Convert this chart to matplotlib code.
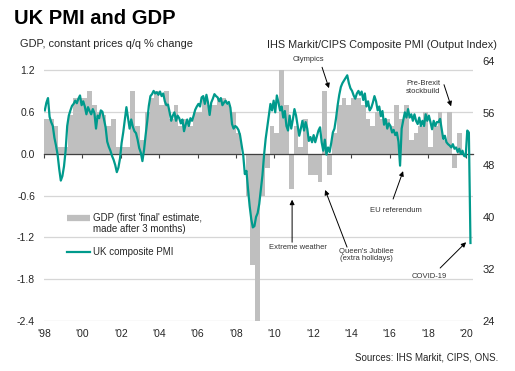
import numpy as np
import matplotlib
matplotlib.use('Agg')
import matplotlib.pyplot as plt
from matplotlib.lines import Line2D

plt.rcParams['font.family'] = ['Liberation Sans', 'DejaVu Sans']

# GDP q/q % change, first 'final' estimate, 1998 Q1 .. 2019 Q4
gdp_q = [
    0.5, 0.5, 0.4, 0.1,      # 1998
    0.1, 0.55, 0.8, 0.8,     # 1999
    0.8, 0.9, 0.7, 0.6,      # 2000
    0.55, 0.4, 0.5, 0.1,     # 2001
    0.1, 0.1, 0.9, 0.4,      # 2002
    0.2, 0.6, 0.8, 0.9,      # 2003
    0.7, 0.9, 0.5, 0.7,      # 2004
    0.4, 0.5, 0.4, 0.6,      # 2005
    0.6, 0.8, 0.7, 0.7,      # 2006
    0.8, 0.8, 0.7, 0.6,      # 2007
    0.3, 0.0, -0.6, -1.6,    # 2008
    -2.4, -0.6, -0.2, 0.4,   # 2009
    0.3, 1.2, 0.7, -0.5,     # 2010
    0.4, 0.1, 0.5, -0.3,     # 2011
    -0.3, -0.4, 0.9, -0.3,   # 2012
    0.3, 0.7, 0.8, 0.7,      # 2013
    0.8, 0.8, 0.7, 0.5,      # 2014
    0.4, 0.6, 0.5, 0.5,      # 2015
    0.4, 0.7, 0.5, 0.7,      # 2016
    0.2, 0.3, 0.4, 0.6,      # 2017
    0.1, 0.4, 0.6, 0.2,      # 2018
    0.6, -0.2, 0.3, 0.0,     # 2019
]

# UK composite PMI, monthly, Jan 1998 .. Mar 2020
pmi_m = [
    56.4, 57.6, 58.3, 55.4, 54.6, 54.0, 52.2, 51.0, 49.6, 47.4, 45.6, 46.3,  # 1998
    47.8, 50.2, 54.0, 55.6, 56.4, 57.1, 57.4, 57.9, 57.5, 58.2, 58.7, 57.2,  # 1999
    57.8, 57.0, 55.8, 56.9, 56.3, 55.8, 56.6, 56.0, 53.6, 55.6, 55.2, 56.4,  # 2000
    56.2, 55.0, 53.8, 51.6, 50.8, 50.2, 49.4, 48.8, 48.0, 46.9, 47.6, 49.0,  # 2001
    51.4, 53.0, 55.0, 56.9, 55.2, 53.6, 55.0, 53.9, 53.2, 52.9, 51.9, 50.6,  # 2002
    49.9, 48.6, 50.3, 52.6, 54.7, 57.1, 58.6, 58.9, 59.4, 59.0, 59.2, 58.8,  # 2003
    59.3, 58.6, 59.0, 57.8, 57.2, 57.3, 56.1, 54.8, 55.6, 56.1, 54.8, 55.6,  # 2004
    55.2, 54.4, 55.0, 53.2, 54.2, 55.0, 54.0, 55.2, 54.8, 55.6, 56.5, 57.0,  # 2005
    57.4, 57.0, 58.4, 58.6, 57.4, 58.8, 57.6, 55.7, 57.6, 58.2, 58.9, 58.6,  # 2006
    58.4, 57.8, 58.3, 57.2, 57.6, 57.9, 57.4, 57.7, 56.8, 54.3, 53.6, 54.0,  # 2007
    53.8, 53.4, 52.6, 51.0, 49.5, 46.6, 47.1, 44.3, 41.7, 39.7, 38.4, 38.6,  # 2008
    40.0, 40.6, 42.0, 44.2, 46.4, 49.5, 52.0, 53.8, 55.5, 57.4, 56.4, 57.9,  # 2009
    56.1, 58.7, 57.6, 56.4, 57.0, 55.3, 56.3, 54.0, 53.3, 55.6, 53.6, 55.0,  # 2010
    56.6, 55.6, 54.0, 52.5, 53.6, 54.8, 53.3, 54.6, 53.6, 51.7, 52.3, 51.5,  # 2011
    52.6, 51.5, 52.4, 53.3, 53.8, 51.5, 50.2, 51.9, 49.6, 50.7, 50.0, 51.4,  # 2012
    53.0, 53.6, 55.2, 57.2, 58.8, 60.0, 60.6, 61.0, 61.4, 61.8, 60.6, 59.8,  # 2013
    59.4, 58.7, 58.2, 59.0, 59.4, 58.8, 59.3, 58.0, 59.0, 57.0, 57.8, 56.4,  # 2014
    56.8, 57.6, 58.6, 57.8, 56.4, 57.0, 55.5, 56.3, 54.2, 55.1, 53.6, 54.4,  # 2015
    54.0, 53.0, 53.4, 52.6, 53.0, 51.6, 47.9, 53.6, 54.9, 56.1, 55.3, 56.6,  # 2016
    55.3, 55.8, 54.8, 55.8, 54.8, 54.3, 55.3, 54.0, 54.8, 54.0, 55.8, 54.8,  # 2017
    55.6, 54.6, 53.5, 54.8, 54.0, 54.6, 54.6, 55.1, 53.5, 52.0, 52.5, 51.5,  # 2018
    51.2, 51.0, 50.7, 51.2, 50.5, 50.7, 50.0, 50.5, 49.7, 50.2, 49.4, 49.3,  # 2019
    53.3, 53.0, 36.0,                                                        # 2020
]

start_year = 1998
year_ticks = list(range(1998, 2021, 2))
year_labels = ["'" + str(y)[2:] for y in year_ticks]
gdp_ticks = [-2.4, -1.8, -1.2, -0.6, 0.0, 0.6, 1.2]
pmi_ticks = [24, 32, 40, 48, 56, 64]

legend_labels = ["GDP (first 'final' estimate,\nmade after 3 months)", "UK composite PMI"]

BAR_COL = '#bfbfbf'
LINE_COL = '#009a8c'
TXT_COL = '#262626'
W, H = 515, 371


def fx(px):
    return px / W


def fy(py):
    return 1 - py / H


gdp_x = start_year + np.arange(len(gdp_q)) * 0.25
pmi_x = start_year + (np.arange(len(pmi_m)) + 0.5) / 12

fig = plt.figure(figsize=(W / 100, H / 100), dpi=100)
ax = fig.add_axes([fx(44), fy(321), fx(473) - fx(44), fy(61) - fy(321)])
ax2 = ax.twinx()

ax.bar(gdp_x, gdp_q, width=0.25, align='edge', color=BAR_COL, linewidth=0, zorder=2)
ax2.plot(pmi_x, pmi_m, color=LINE_COL, lw=1.6, zorder=3)

ax.set_xlim(1998, 2020.34)
ax.set_ylim(-2.4, 1.33)
ax2.set_ylim(24, 64)

# left axis + grid
ax.set_yticks(gdp_ticks)
ax.set_yticklabels([f'{v:.1f}' for v in gdp_ticks])
ax.yaxis.grid(True, color='#d6d6d6', lw=0.9)
ax.set_axisbelow(True)
ax.tick_params(axis='y', length=0, pad=6.5, labelsize=7.5, labelcolor=TXT_COL)

# right axis
ax2.set_yticks(pmi_ticks)
ax2.tick_params(axis='y', length=0, pad=7, labelsize=8, labelcolor=TXT_COL)

for a in (ax, ax2):
    for s in a.spines.values():
        s.set_visible(False)

# zero line with year ticks
ax.spines['bottom'].set_visible(True)
ax.spines['bottom'].set_position(('data', 0))
ax.spines['bottom'].set_color('#404040')
ax.spines['bottom'].set_linewidth(0.9)
ax.set_xticks(year_ticks)
ax.tick_params(axis='x', direction='out', length=3, width=0.8, color='#404040',
               labelbottom=False)

# year labels at the bottom of the plot
sec = ax.secondary_xaxis('bottom')
sec.set_xticks(year_ticks, year_labels)
sec.tick_params(length=0, pad=6, labelsize=7.5, labelcolor=TXT_COL)
sec.spines['bottom'].set_visible(False)

# annotations (text pos, arrow tail, arrow head) in GDP-axis data units
notes = [
    ("Olympics", (2011.75, 1.35), (2012.48, 1.24), (2012.84, 0.94)),
    ("Pre-Brexit\nstockbuild", (2017.74, 0.95), (2018.83, 0.99), (2019.20, 0.68)),
    ("EU referendum", (2016.33, -0.82), (2016.18, -0.65), (2016.70, -0.25)),
    ("Extreme weather", (2011.23, -1.35), (2010.92, -1.27), (2010.92, -0.66)),
    ("Queen's Jubilee\n(extra holidays)", (2014.77, -1.45), (2013.78, -1.34), (2012.64, -0.52)),
    ("COVID-19", (2018.05, -1.76), (2018.63, -1.64), (2019.98, -1.27)),
]
for label, txt_xy, tail, head in notes:
    ax2.annotate('', xy=head, xytext=tail, xycoords=ax.transData, textcoords=ax.transData,
                 arrowprops=dict(arrowstyle='-|>', color='black', lw=0.7,
                                 mutation_scale=7, shrinkA=0, shrinkB=0),
                 annotation_clip=False)
    ax2.text(txt_xy[0], txt_xy[1], label, transform=ax.transData, ha='center', va='center',
             fontsize=5.5, color='#333333', linespacing=1.1, clip_on=False)

# legend, drawn by hand so the bar key sits on the first text line
fig.add_artist(Line2D([fx(67), fx(90)], [fy(218), fy(218)], color=BAR_COL, lw=4.5,
                      solid_capstyle='butt'))
fig.add_artist(Line2D([fx(67), fx(90)], [fy(252), fy(252)], color=LINE_COL, lw=1.6))
fig.text(fx(93), fy(213), legend_labels[0], fontsize=7.0, color=TXT_COL, va='top',
         linespacing=1.15)
fig.text(fx(93), fy(252), legend_labels[1], fontsize=7.0, color=TXT_COL, va='center')

# titles and source
fig.text(fx(14), fy(18.5), 'UK PMI and GDP', fontsize=14.5, fontweight='bold', va='center')
fig.text(fx(20), fy(44), 'GDP, constant prices q/q % change', fontsize=7.9, color=TXT_COL,
         va='center')
fig.text(fx(497), fy(45), 'IHS Markit/CIPS Composite PMI (Output Index)', fontsize=7.8,
         color=TXT_COL, ha='right', va='center')
fig.text(fx(498), fy(358), 'Sources: IHS Markit, CIPS, ONS.', fontsize=7.0, color=TXT_COL,
         ha='right', va='center')

fig.savefig('out.png', dpi=100)
